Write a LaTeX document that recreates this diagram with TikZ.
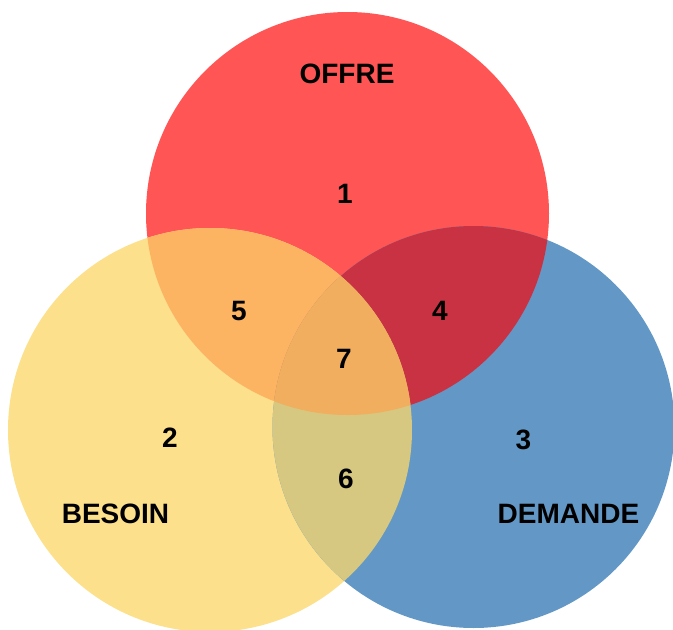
\documentclass[tikz,border=0pt]{standalone}
\usepackage{fontspec}
\setmainfont{Liberation Sans}
\definecolor{cred}{RGB}{255,85,85}
\definecolor{cyel}{RGB}{252,224,140}
\definecolor{cblu}{RGB}{99,152,198}
\definecolor{cry}{RGB}{252,180,98}
\definecolor{crb}{RGB}{201,50,66}
\definecolor{cyb}{RGB}{214,200,128}
\definecolor{call}{RGB}{240,174,94}
\begin{document}
\begin{tikzpicture}[x=1pt,y=-1pt,
  lbl/.style={font=\fontsize{28}{30}\selectfont\bfseries,text=black,inner sep=0pt,anchor=center}]
\useasboundingbox (0,0) rectangle (673,630);
\def\red{(347.5,213.5) circle[radius=201.5]}
\def\yel{(210,430) circle[radius=202]}
\def\blu{(473.5,427) circle[radius=201]}
\fill[cred] \red;
\fill[cyel] \yel;
\fill[cblu] \blu;
\begin{scope}\clip \red; \fill[cry] \yel; \end{scope}
\begin{scope}\clip \red; \fill[crb] \blu; \end{scope}
\begin{scope}\clip \yel; \fill[cyb] \blu; \end{scope}
\begin{scope}\clip \red; \clip \yel; \fill[call] \blu; \end{scope}
\node[lbl] (offre) at (347,74) {OFFRE};
\node[lbl] (besoin) at (115.5,514) {BESOIN};
\node[lbl] (demande) at (568.5,514) {DEMANDE};
\node[lbl] (n1) at (345,194) {1};
\node[lbl] (n2) at (170,438) {2};
\node[lbl] (n3) at (523.5,440) {3};
\node[lbl] (n4) at (440,311) {4};
\node[lbl] (n5) at (239,311) {5};
\node[lbl] (n6) at (346,479) {6};
\node[lbl] (n7) at (344,359) {7};
\end{tikzpicture}
\end{document}
